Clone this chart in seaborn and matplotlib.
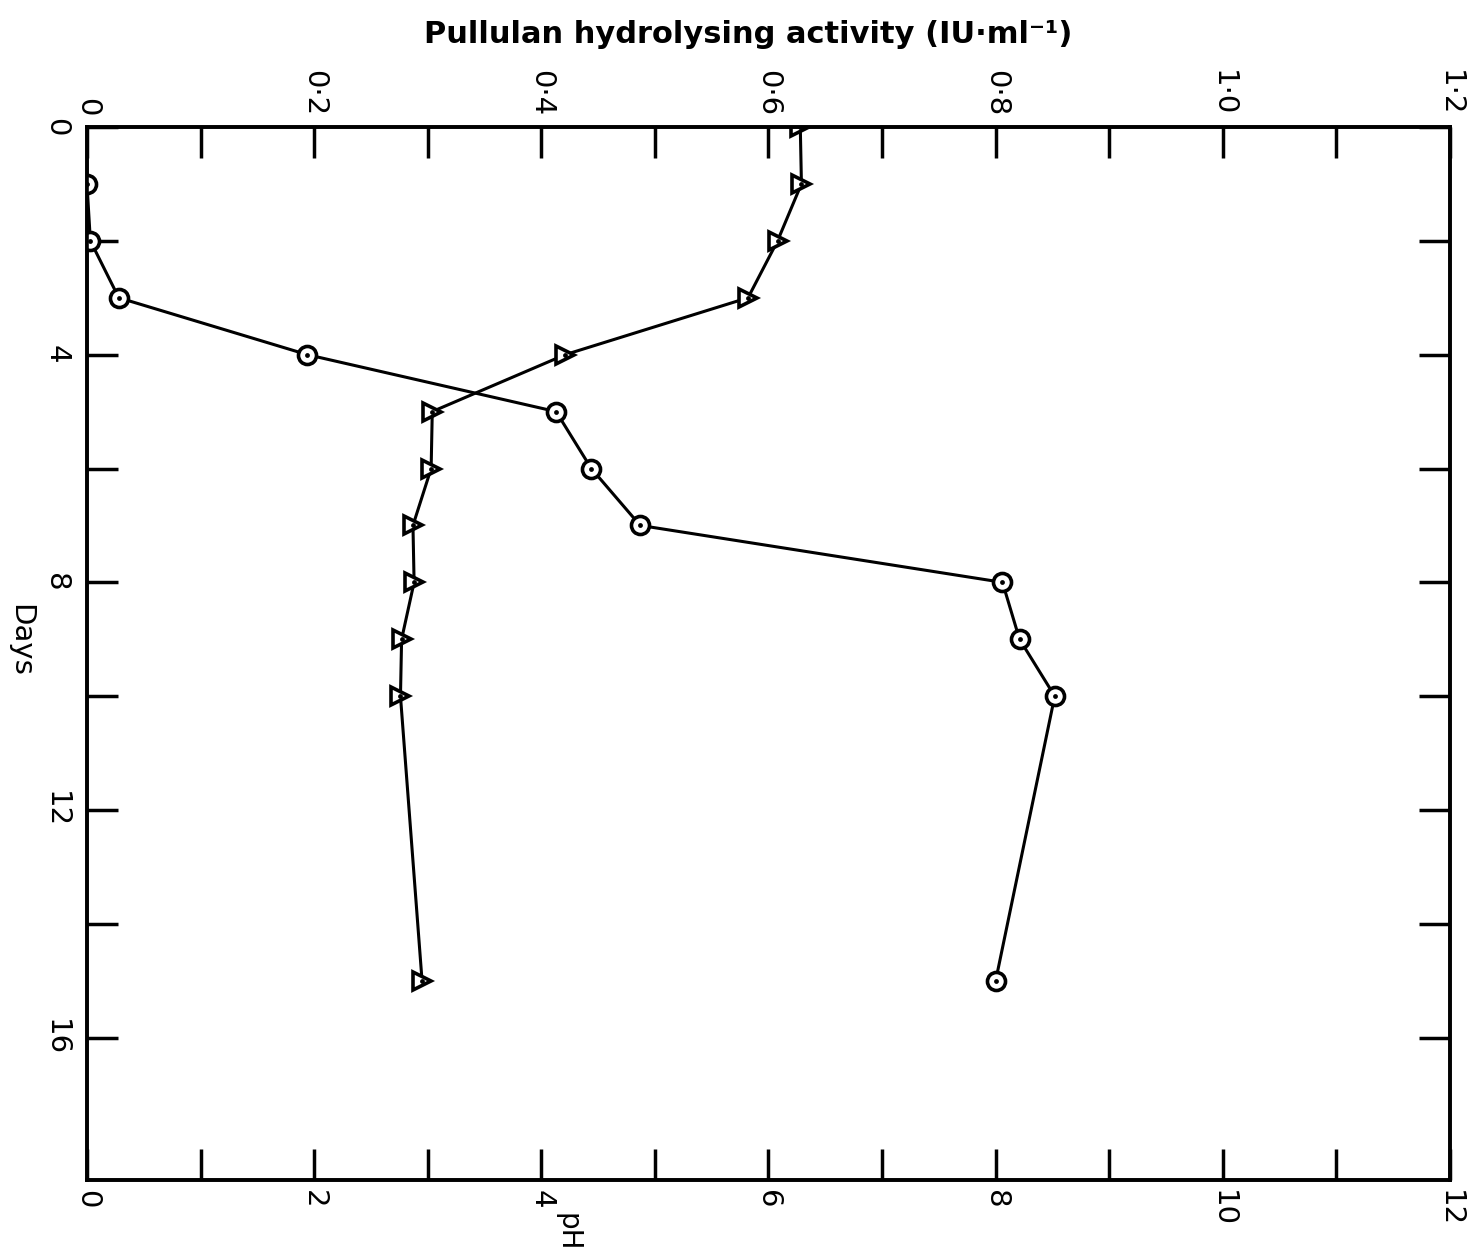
import matplotlib
matplotlib.use("Agg")
import matplotlib.pyplot as plt
import seaborn as sns
from matplotlib.ticker import FixedLocator, FuncFormatter

# ---- data ----
days_ph = [0, 1, 2, 3, 4, 5, 6, 7, 8, 9, 10, 15]
ph_values = [6.28, 6.29, 6.08, 5.82, 4.21, 3.04, 3.03, 2.87, 2.88, 2.77, 2.76, 2.95]

days_act = [1, 2, 3, 4, 5, 6, 7, 8, 9, 10, 15]
activity_values = [0.0, 0.003, 0.028, 0.194, 0.413, 0.444, 0.487, 0.806, 0.821, 0.852, 0.80]

ph_ticks = [0, 2, 4, 6, 8, 10, 12]
ph_minor = [1, 3, 5, 7, 9, 11]
act_ticks = [0, 0.2, 0.4, 0.6, 0.8, 1.0, 1.2]
act_minor = [0.1, 0.3, 0.5, 0.7, 0.9, 1.1]
day_ticks = [0, 4, 8, 12, 16]
day_minor = [2, 6, 10, 14]

sns.set_style("ticks")
plt.rcParams["font.family"] = ["DejaVu Sans"]
for k in ("text.color", "axes.labelcolor", "xtick.color", "ytick.color", "axes.edgecolor"):
    plt.rcParams[k] = "black"

fig = plt.figure(figsize=(14.79, 12.55), dpi=100)
ax = fig.add_axes([0.0588, 0.0598, 0.9216, 0.839])
ax2 = ax.twiny()

LW = 2.2
MS = 13
MEW = 2.6

# pH series (triangles)
sns.lineplot(x=ph_values, y=days_ph, ax=ax, sort=False, estimator=None,
             color="black", lw=LW, marker=">", markersize=MS,
             markerfacecolor="white", markeredgecolor="black", markeredgewidth=MEW)
sns.scatterplot(x=ph_values, y=days_ph, ax=ax, color="black", s=12,
                marker="o", linewidth=0, zorder=5)

# activity series (circles)
sns.lineplot(x=activity_values, y=days_act, ax=ax2, sort=False, estimator=None,
             color="black", lw=LW, marker="o", markersize=MS,
             markerfacecolor="white", markeredgecolor="black", markeredgewidth=MEW)
sns.scatterplot(x=activity_values, y=days_act, ax=ax2, color="black", s=12,
                marker="o", linewidth=0, zorder=5)

ax.set_xlim(0, 12)
ax2.set_xlim(0, 1.2)
ax.set_ylim(18.5, 0)

ax.set_xlabel("")
ax.set_ylabel("")
ax2.set_xlabel("")
ax2.set_ylabel("")

ax.xaxis.set_major_locator(FixedLocator(ph_ticks))
ax.xaxis.set_minor_locator(FixedLocator(ph_minor))
ax.yaxis.set_major_locator(FixedLocator(day_ticks))
ax.yaxis.set_minor_locator(FixedLocator(day_minor))
ax2.xaxis.set_major_locator(FixedLocator(act_ticks))
ax2.xaxis.set_minor_locator(FixedLocator(act_minor))
ax2.xaxis.set_major_formatter(FuncFormatter(
    lambda v, p: "0" if abs(v) < 1e-9 else ("%.1f" % v).replace(".", "\u00b7")))

TL = 22
TW = 2.5
FS = 21
ax.tick_params(axis="x", which="both", direction="in", length=TL, width=TW,
               bottom=True, top=False, labelbottom=True, labeltop=False,
               labelrotation=270, labelsize=FS, pad=7, colors="black")
ax.tick_params(axis="y", which="both", direction="in", length=TL, width=TW,
               left=True, right=True, labelleft=True, labelright=False,
               labelrotation=270, labelsize=FS, pad=12, colors="black")
ax2.tick_params(axis="x", which="both", direction="in", length=TL, width=TW,
                bottom=False, top=True, labelbottom=False, labeltop=True,
                labelrotation=270, labelsize=FS, pad=8, colors="black")

for a in (ax, ax2):
    for s in a.spines.values():
        s.set_linewidth(2.6)
        s.set_color("black")

for lab in ax.get_yticklabels():
    lab.set_va("center")

# axis labels
ax.set_ylabel("Days", fontsize=21, rotation=270)
ax.yaxis.label.set(ha="center", va="center", rotation_mode="default", color="black")
ax.yaxis.set_label_coords((20 - 87) / 1363, 1 - (640 - 127) / 1053)

ax.set_xlabel("pH", fontsize=20, rotation=270)
ax.xaxis.label.set(ha="center", va="center", rotation_mode="default", color="black")
ax.xaxis.set_label_coords((568 - 87) / 1363, -(1232 - 1180) / 1053)

ax2.set_xlabel("Pullulan hydrolysing activity (IU\u00b7ml\u207b\u00b9)",
               fontsize=22, fontweight="bold")
ax2.xaxis.label.set(ha="center", va="center", color="black")
ax2.xaxis.set_label_coords((748 - 87) / 1363, 1 + (127 - 34) / 1053)

fig.savefig("out.png", dpi=100, facecolor="white")
